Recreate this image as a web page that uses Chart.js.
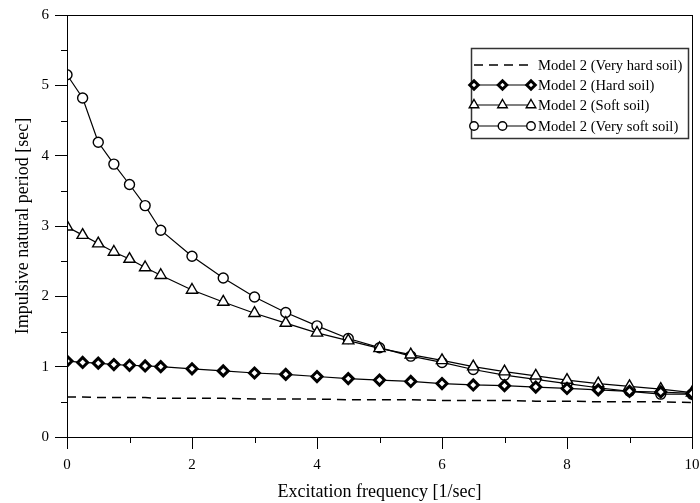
<!DOCTYPE html>
<html><head><meta charset="utf-8">
<script src="https://cdn.jsdelivr.net/npm/chart.js@4/dist/chart.umd.min.js"></script>
<style>html,body{margin:0;padding:0;background:#fff}canvas{display:block}</style>
</head><body>
<canvas id="c" width="700" height="503"></canvas>
<script>
const freq = [0,0.25,0.5,0.75,1,1.25,1.5,2,2.5,3,3.5,4,4.5,5,5.5,6,6.5,7,7.5,8,8.5,9,9.5,10];
const veryHard = [0.57,0.57,0.56,0.56,0.56,0.56,0.55,0.55,0.55,0.54,0.54,0.54,0.53,0.53,0.53,0.52,0.52,0.52,0.51,0.51,0.50,0.50,0.50,0.49];
const hard = [1.08,1.06,1.05,1.03,1.02,1.01,1.00,0.97,0.94,0.91,0.89,0.86,0.83,0.81,0.79,0.76,0.74,0.73,0.71,0.69,0.67,0.65,0.64,0.62];
const soft = [2.99,2.87,2.75,2.63,2.53,2.41,2.30,2.09,1.92,1.76,1.62,1.48,1.37,1.26,1.17,1.09,1.00,0.93,0.87,0.81,0.76,0.72,0.68,0.63];
const verySoft = [5.15,4.82,4.19,3.88,3.59,3.29,2.94,2.57,2.26,1.99,1.77,1.58,1.40,1.27,1.15,1.06,0.96,0.88,0.82,0.76,0.70,0.65,0.61,0.61];
const seriesNames = ['Model 2 (Very hard soil)','Model 2 (Hard soil)','Model 2 (Soft soil)','Model 2 (Very soft soil)'];
const xTitle = 'Excitation frequency [1/sec]';
const yTitle = 'Impulsive natural period [sec]';
const xMinorTicks = [1,3,5,7,9];
const yMinorTicks = [0.5,1.5,2.5,3.5,4.5,5.5];

const FONT = "'Liberation Serif', 'Times New Roman', serif";
const pts = arr => freq.map((x,i)=>({x:x,y:arr[i]}));

const frameAndLegend = {
  id:'frameAndLegend',
  afterDraw(chart){
    const {ctx, chartArea:a} = chart;
    const xs = chart.scales.x, ys = chart.scales.y;
    ctx.save();
    ctx.strokeStyle='#000'; ctx.lineWidth=1;
    ctx.strokeRect(Math.round(a.left)+0.5, Math.round(a.top)+0.5, Math.round(a.right-a.left), Math.round(a.bottom-a.top));
    // minor ticks
    ctx.beginPath();
    xMinorTicks.forEach(v=>{ const px=Math.round(xs.getPixelForValue(v))+0.5; ctx.moveTo(px,a.bottom); ctx.lineTo(px,a.bottom+6); });
    yMinorTicks.forEach(v=>{ const py=Math.round(ys.getPixelForValue(v))+0.5; ctx.moveTo(a.left,py); ctx.lineTo(a.left-6,py); });
    ctx.stroke();
    // legend
    const bx=471, by=48, bw=217, bh=90;
    ctx.fillStyle='#fff'; ctx.fillRect(bx,by,bw,bh);
    ctx.strokeStyle='#333'; ctx.lineWidth=1.5; ctx.strokeRect(bx+0.5,by+0.5,bw,bh);
    const ds = chart.data.datasets;
    const rowY=[65,85,105,126];
    ds.forEach((d,i)=>{
      const y=rowY[i], x0=474, x1=531;
      ctx.strokeStyle='#000'; ctx.lineWidth=d.borderWidth||1.2;
      ctx.setLineDash(d.borderDash||[]);
      ctx.beginPath(); ctx.moveTo(x0,y); ctx.lineTo(x1,y); ctx.stroke();
      ctx.setLineDash([]);
      if(d.pointRadius>0){
        [x0, (x0+x1)/2, x1].forEach(px=>{
          ctx.fillStyle=d.pointBackgroundColor; ctx.strokeStyle=d.pointBorderColor; ctx.lineWidth=d.pointBorderWidth;
          Chart.helpers.drawPoint(ctx,{pointStyle:d.pointStyle,radius:d.pointRadius*0.85,rotation:0,borderWidth:d.pointBorderWidth},px,y);
        });
      }
      ctx.fillStyle='#000';
      ctx.font = "14.6px "+FONT; ctx.textBaseline='middle'; ctx.textAlign='left';
      ctx.fillText(d.label, 538, y+1);
    });
    ctx.restore();
  }
};

new Chart(document.getElementById('c'), {
  type:'line',
  data:{datasets:[
    {label:seriesNames[0], data:pts(veryHard), borderColor:'#000', borderWidth:1.5, borderDash:[9,6], pointRadius:0, tension:0},
    {label:seriesNames[1], data:pts(hard), borderColor:'#000', borderWidth:1.2, pointStyle:'rectRot', pointRadius:5, pointBorderWidth:3, pointBackgroundColor:'#fff', pointBorderColor:'#000', tension:0},
    {label:seriesNames[2], data:pts(soft), borderColor:'#000', borderWidth:1.2, pointStyle:'triangle', pointRadius:6.5, pointBorderWidth:1.4, pointBackgroundColor:'#fff', pointBorderColor:'#000', tension:0},
    {label:seriesNames[3], data:pts(verySoft), borderColor:'#000', borderWidth:1.2, pointStyle:'circle', pointRadius:5, pointBorderWidth:1.4, pointBackgroundColor:'#fff', pointBorderColor:'#000', tension:0}
  ]},
  options:{
    responsive:false, animation:false, devicePixelRatio:1,
    layout:{padding:{left:0,right:7,top:15,bottom:0}},
    plugins:{legend:{display:false}, tooltip:{enabled:false}},
    scales:{
      x:{type:'linear', min:0, max:10,
        afterFit(s){ s.height=66; s.paddingLeft=0; s.paddingRight=0; },
        border:{color:'#000', width:1},
        grid:{drawOnChartArea:false, color:'#000', tickLength:12, tickColor:'#000'},
        ticks:{stepSize:2, autoSkip:false, maxRotation:0, color:'#000', font:{family:FONT,size:15}, padding:7},
        title:{display:true, text:xTitle, color:'#000', font:{family:FONT,size:18}, padding:{top:4,bottom:0}}
      },
      y:{type:'linear', min:0, max:6,
        afterFit(s){ s.width=67; s.paddingTop=0; s.paddingBottom=0; },
        border:{color:'#000', width:1},
        grid:{drawOnChartArea:false, color:'#000', tickLength:12, tickColor:'#000'},
        ticks:{stepSize:1, autoSkip:false, color:'#000', font:{family:FONT,size:15}, padding:6},
        title:{display:true, text:yTitle, color:'#000', font:{family:FONT,size:18}, padding:{top:12,bottom:4}}
      }
    }
  },
  plugins:[frameAndLegend]
});
</script>
</body></html>
